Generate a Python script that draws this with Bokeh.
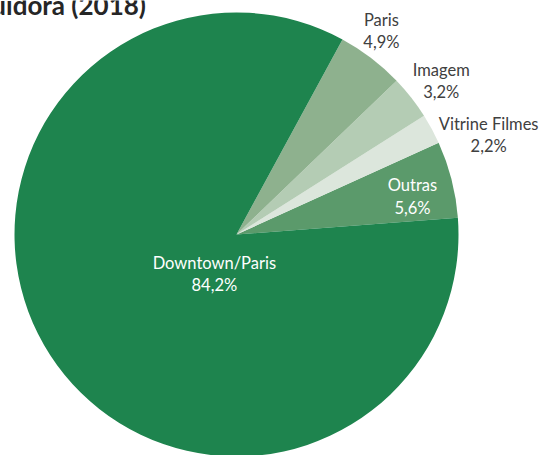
import math
from bokeh.plotting import figure
from bokeh.models import Range1d, ColumnDataSource
from bokeh.core.properties import value
from bokeh.embed import file_html
from bokeh.resources import INLINE

# Data (counterclockwise from the Outras slice)
names = ["Outras", "Vitrine Filmes", "Imagem", "Paris", "Downtown/Paris"]
shares = [5.6, 2.2, 3.2, 4.9, 84.2]
pct_labels = ["5,6%", "2,2%", "3,2%", "4,9%", "84,2%"]
title_text = "Participação por distribuidora (2018)"

# Styles
colors = ["#5B9A6B", "#DCE6DC", "#B4CCB4", "#8EB18E", "#1E844E"]
text_colors = ["white", "#404040", "#404040", "#404040", "white"]
label_r = [180, 271, 256, 250, 45.5]
label_shift = [-2.2, -6.9, -1.2, 1.9, 28.0]  # degrees off slice middle

W, H = 541, 455
cx, cy, R = 236, 221, 222
start_deg = 4.3

p = figure(width=W, height=H, output_backend="svg", toolbar_location=None,
           x_range=Range1d(0, W), y_range=Range1d(0, H), min_border=0)
p.axis.visible = False
p.grid.visible = False
p.outline_line_color = None
p.background_fill_color = "white"

total = sum(shares)
starts, ends, lx, ly = [], [], [], []
a = start_deg
for i, s in enumerate(shares):
    span = s / total * 360.0
    starts.append(math.radians(a))
    ends.append(math.radians(a + span))
    mid = a + span / 2 + label_shift[i]
    lx.append(cx + label_r[i] * math.cos(math.radians(mid)))
    ly.append(cy + label_r[i] * math.sin(math.radians(mid)))
    a += span

src = ColumnDataSource(dict(start=starts, end=ends, color=colors,
                            x=[cx] * len(names), y=[cy] * len(names)))
p.wedge(x="x", y="y", radius=R, start_angle="start", end_angle="end",
        fill_color="color", line_color=None, source=src)

lsrc = ColumnDataSource(dict(x=lx, y=ly, t=[n + "\n" + q for n, q in zip(names, pct_labels)],
                             c=text_colors))
p.text(x="x", y="y", text="t", text_color="c", source=lsrc,
       text_font=value("Lato"), text_font_size="16.5px",
       text_align="center", text_baseline="middle", text_line_height=1.12)

p.text(x=[146], y=[451], text=[title_text], text_font=value("Lato"),
       text_font_size="26px", text_font_style="bold", text_color="#262626",
       text_align="right", text_baseline="alphabetic")

open("out.html", "w").write(file_html(p, INLINE))
